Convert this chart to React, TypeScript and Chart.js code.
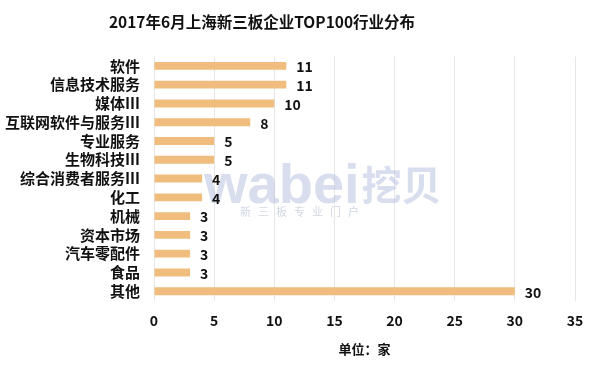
import React, { useEffect, useRef } from "react";
import { Chart, registerables } from "chart.js";

Chart.register(...registerables);

const TITLE = "2017年6月上海新三板企业TOP100行业分布";
const categories = [
  "软件",
  "信息技术服务",
  "媒体Ⅲ",
  "互联网软件与服务Ⅲ",
  "专业服务",
  "生物科技Ⅲ",
  "综合消费者服务Ⅲ",
  "化工",
  "机械",
  "资本市场",
  "汽车零配件",
  "食品",
  "其他",
];
const values = [11, 11, 10, 8, 5, 5, 4, 4, 3, 3, 3, 3, 30];
const xTicks = [0, 5, 10, 15, 20, 25, 30, 35];
const AXIS_TITLE = "单位：家";
const WATERMARK_MAIN = "wabei";
const WATERMARK_CN = "挖贝";
const WATERMARK_SUB = "新三板专业门户";

const FONT = "'Noto Sans CJK SC', 'Noto Sans', sans-serif";

const watermarkPlugin = {
  id: "watermark",
  beforeDatasetsDraw(chart: any) {
    const ctx = chart.ctx;
    ctx.save();
    ctx.fillStyle = "rgba(180,190,222,0.5)";
    ctx.textBaseline = "alphabetic";
    ctx.textAlign = "left";
    ctx.font = "bold 56px 'Liberation Sans', Arial, sans-serif";
    ctx.fillText(WATERMARK_MAIN, 204, 203);
    const w = ctx.measureText(WATERMARK_MAIN).width;
    ctx.font = "bold 40px " + FONT;
    ctx.fillText(WATERMARK_CN, 204 + w + 2, 200);
    ctx.font = "11px " + FONT;
    ctx.fillStyle = "rgba(190,198,212,0.7)";
    const chars = WATERMARK_SUB.split("");
    chars.forEach((c, i) => ctx.fillText(c, 240 + i * 18, 216));
    ctx.restore();
  },
};

const titlePlugin = {
  id: "customTitle",
  afterDraw(chart: any) {
    const ctx = chart.ctx;
    ctx.save();
    ctx.font = "bold 15.5px " + FONT;
    ctx.fillStyle = "#111";
    ctx.textAlign = "center";
    ctx.textBaseline = "middle";
    ctx.fillText(TITLE, 262, 22);
    ctx.restore();
  },
};

const labelPlugin = {
  id: "barLabels",
  afterDatasetsDraw(chart: any) {
    const ctx = chart.ctx;
    const meta = chart.getDatasetMeta(0);
    ctx.save();
    ctx.font = "bold 14px " + FONT;
    ctx.fillStyle = "#111";
    ctx.textAlign = "left";
    ctx.textBaseline = "middle";
    meta.data.forEach((bar: any, i: number) => {
      ctx.fillText(String(chart.data.datasets[0].data[i]), bar.x + 10, bar.y + 1);
    });
    ctx.restore();
  },
};

export default function App() {
  const ref = useRef<HTMLCanvasElement | null>(null);
  useEffect(() => {
    document.body.style.margin = "0";
    const chart = new Chart(ref.current as HTMLCanvasElement, {
      type: "bar",
      data: {
        labels: categories,
        datasets: [
          {
            data: values,
            backgroundColor: "#F0BD7E",
            barPercentage: 0.42,
            categoryPercentage: 1,
          },
        ],
      },
      options: {
        indexAxis: "y",
        animation: false,
        responsive: false,
        maintainAspectRatio: false,
        layout: { padding: { left: 0, right: 25, top: 56.5, bottom: 18 } },
        plugins: {
          legend: { display: false },
          tooltip: { enabled: false },
          title: { display: false },
        },
        scales: {
          x: {
            min: 0,
            max: 35,
            afterBuildTicks(scale: any) {
              scale.ticks = xTicks.map((v) => ({ value: v }));
            },
            grid: { color: "#E6E6E6", drawTicks: false },
            border: { display: false },
            ticks: {
              color: "#111",
              font: { family: FONT, size: 14, weight: "bold" },
              padding: 12,
            },
            title: {
              display: true,
              text: AXIS_TITLE,
              color: "#111",
              font: { family: FONT, size: 13, weight: "bold" },
              padding: { top: 0, bottom: 0 },
            },
          },
          y: {
            afterFit(scale: any) {
              scale.width = 154;
            },
            grid: { display: false, drawTicks: false },
            border: { display: false },
            ticks: {
              color: "#111",
              font: { family: FONT, size: 15, weight: "bold" },
              padding: 14,
              autoSkip: false,
            },
          },
        },
      },
      plugins: [watermarkPlugin, labelPlugin, titlePlugin],
    });
    return () => chart.destroy();
  }, []);
  return (
    <div style={{ width: 600, height: 375, background: "#fff" }}>
      <canvas ref={ref} width={600} height={375} />
    </div>
  );
}
